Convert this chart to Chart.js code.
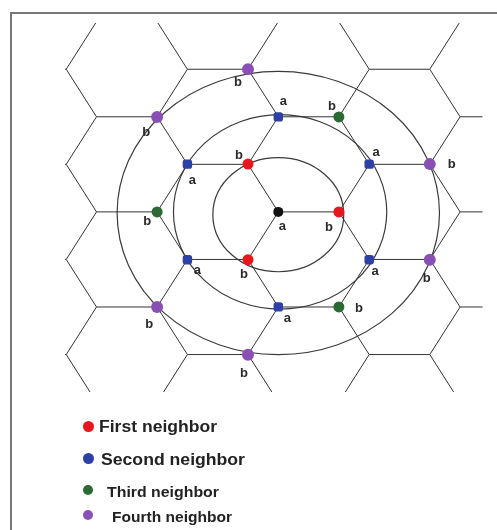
<!DOCTYPE html>
<html>
<head>
<meta charset="utf-8">
<script src="https://cdn.jsdelivr.net/npm/chart.js@4.4.1/dist/chart.umd.min.js"></script>
<style>
  html, body { margin: 0; padding: 0; background: #fff; }
  #wrap { position: relative; width: 497px; height: 530px; overflow: hidden; }
  #frame { position: absolute; left: 10px; top: 12px; width: 500px; height: 530px;
           border-left: 2px solid #777; border-top: 2px solid #777; }
  canvas { position: absolute; left: 0; top: 0; }
  .item { position: absolute; white-space: nowrap; font-family: "Liberation Sans", Arial, sans-serif;
          font-weight: bold; color: #222; line-height: 1; transform-origin: 0 50%; }
  .dot { position: absolute; border-radius: 50%; }
</style>
</head>
<body>
<div id="wrap">
  <div id="frame"></div>
  <canvas id="chart-lattice" width="497" height="530"></canvas>
  <div id="legend"></div>
</div>
<script>
// honeycomb lattice, bond length = 1, rows spaced 0.866
const rowIdx = [-4, -3, -2, -1, 0, 1, 2, 3, 4];
const rowStep = 0.866;
const evenBonds = [[-3, -2], [0, 1], [3, 4]];
const oddBonds = [[-4.5, -3.5], [-1.5, -0.5], [1.5, 2.5]];
const zigzagCols = [[-3, -3.5], [-2, -1.5], [0, -0.5], [1, 1.5], [3, 2.5]];

// atoms
const centerAtom = [{x: 0, y: 0}];
const firstNb = [{x: 1, y: 0}, {x: -0.5, y: 0.87}, {x: -0.5, y: -0.87}];
const secondNb = [{x: 0, y: 1.73}, {x: 1.5, y: 0.87}, {x: 1.5, y: -0.87},
                  {x: 0, y: -1.73}, {x: -1.5, y: -0.87}, {x: -1.5, y: 0.87}];
const thirdNb = [{x: 1, y: 1.73}, {x: -2, y: 0}, {x: 1, y: -1.73}];
const fourthNb = [{x: -0.5, y: 2.6}, {x: -2, y: 1.73}, {x: 2.5, y: 0.87},
                  {x: 2.5, y: -0.87}, {x: -2, y: -1.73}, {x: -0.5, y: -2.6}];

// sublattice letters
const centerTxt = ['a'];
const firstTxt = ['b', 'b', 'b'];
const secondTxt = ['a', 'a', 'a', 'a', 'a', 'a'];
const thirdTxt = ['b', 'b', 'b'];
const fourthTxt = ['b', 'b', 'b', 'b', 'b', 'b'];

// rings round the centre atom
const ringCx = [0, 0.03, 0];
const ringCy = [-0.05, 0, -0.02];
const ringRx = [1.08, 1.76, 2.66];
const ringRy = [1.04, 1.77, 2.58];

const legendNames = ['First neighbor', 'Second neighbor', 'Third neighbor', 'Fourth neighbor'];
const colors = ['#e8161e', '#2c40a8', '#2b6a34', '#8a4fb4'];

// lattice segments, nulls break the line
const latticeData = [];
rowIdx.forEach(k => {
  const bonds = (k % 2 === 0) ? evenBonds : oddBonds;
  bonds.forEach(b => {
    latticeData.push({x: b[0], y: k * rowStep}, {x: b[1], y: k * rowStep}, {x: null, y: null});
  });
});
zigzagCols.forEach(c => {
  rowIdx.forEach(k => {
    latticeData.push({x: (k % 2 === 0) ? c[0] : c[1], y: k * rowStep});
  });
  latticeData.push({x: null, y: null});
});

// label offsets in pixels (dx, dy) from the atom
const labelOffsets = [
  [[4, 15]],
  [[-10, 16], [-9, -9], [-4, 15]],
  [[5, -15], [7, -12], [6, 12], [9, 12], [10, 11], [5, 16]],
  [[-7, -10], [-10, 10], [20, 2]],
  [[-10, 13], [-11, 16], [22, 0], [-3, 19], [-8, 18], [-4, 19]]
];
const labelGroups = [
  [centerAtom, centerTxt], [firstNb, firstTxt], [secondNb, secondTxt],
  [thirdNb, thirdTxt], [fourthNb, fourthTxt]
];

const ringsAndLetters = {
  id: 'ringsAndLetters',
  beforeDatasetsDraw(chart) {
    const {ctx, scales: {x, y}} = chart;
    ctx.save();
    ctx.strokeStyle = '#3a3a3a';
    ctx.lineWidth = 1.2;
    ringRx.forEach((rx, i) => {
      const cx = x.getPixelForValue(ringCx[i]);
      const cy = y.getPixelForValue(ringCy[i]);
      const px = x.getPixelForValue(ringCx[i] + rx) - cx;
      const py = cy - y.getPixelForValue(ringCy[i] + ringRy[i]);
      ctx.beginPath();
      ctx.ellipse(cx, cy, px, py, 0, 0, Math.PI * 2);
      ctx.stroke();
    });
    ctx.restore();
  },
  afterDatasetsDraw(chart) {
    const {ctx, scales: {x, y}} = chart;
    ctx.save();
    ctx.fillStyle = '#2a2a2a';
    ctx.font = 'bold 13px "Liberation Sans", Arial, sans-serif';
    ctx.textAlign = 'center';
    ctx.textBaseline = 'middle';
    labelGroups.forEach((g, gi) => {
      g[0].forEach((p, i) => {
        const off = labelOffsets[gi][i];
        ctx.fillText(g[1][i], x.getPixelForValue(p.x) + off[0], y.getPixelForValue(p.y) + off[1]);
      });
    });
    ctx.restore();
  }
};

const atomSet = (data, color, radius, style) => ({
  data: data,
  backgroundColor: color,
  borderColor: color,
  borderWidth: 0,
  pointRadius: radius,
  pointStyle: style || 'circle',
  showLine: false
});

const chartLattice = new Chart(document.getElementById('chart-lattice'), {
  type: 'scatter',
  data: {
    datasets: [
      atomSet(centerAtom, '#111111', 5),
      atomSet(firstNb, colors[0], 5.5),
      atomSet(secondNb, colors[1], 5.5, 'rectRounded'),
      atomSet(thirdNb, colors[2], 5.5),
      atomSet(fourthNb, colors[3], 6),
      {
        data: latticeData,
        showLine: true,
        spanGaps: false,
        borderColor: '#333333',
        borderWidth: 1,
        pointRadius: 0,
        clip: 0
      }
    ]
  },
  options: {
    responsive: false,
    animation: false,
    events: [],
    layout: { padding: { left: 65, right: 14.5, top: 23, bottom: 138 } },
    scales: {
      x: { type: 'linear', min: -3.52, max: 3.37, display: false },
      y: { type: 'linear', min: -3.28, max: 3.44, display: false }
    },
    plugins: {
      legend: { display: false },
      tooltip: { enabled: false }
    }
  },
  plugins: [ringsAndLetters]
});

// legend below the lattice
const legendY = [427, 459, 491, 516];
const legendTextX = [99, 101, 107, 112];
const legendTextW = [118, 144, 112, 120];
const legendSize = [16, 17, 15, 15];
const legendDot = [5.5, 5.5, 5, 5];
const legendEl = document.getElementById('legend');
legendNames.forEach((name, i) => {
  const d = document.createElement('div');
  d.className = 'dot';
  d.style.background = colors[i];
  d.style.width = d.style.height = (legendDot[i] * 2) + 'px';
  d.style.left = (88 - legendDot[i]) + 'px';
  d.style.top = (legendY[i] - 1 - legendDot[i]) + 'px';
  legendEl.appendChild(d);
  const t = document.createElement('div');
  t.className = 'item';
  t.textContent = name;
  t.style.fontSize = legendSize[i] + 'px';
  t.style.left = legendTextX[i] + 'px';
  t.style.top = (legendY[i] - legendSize[i] * 0.5) + 'px';
  if (i === 3) t.style.fontWeight = '600';
  legendEl.appendChild(t);
  const w = t.getBoundingClientRect().width;
  t.style.transform = 'scaleX(' + (legendTextW[i] / w).toFixed(3) + ')';
});
</script>
</body>
</html>
